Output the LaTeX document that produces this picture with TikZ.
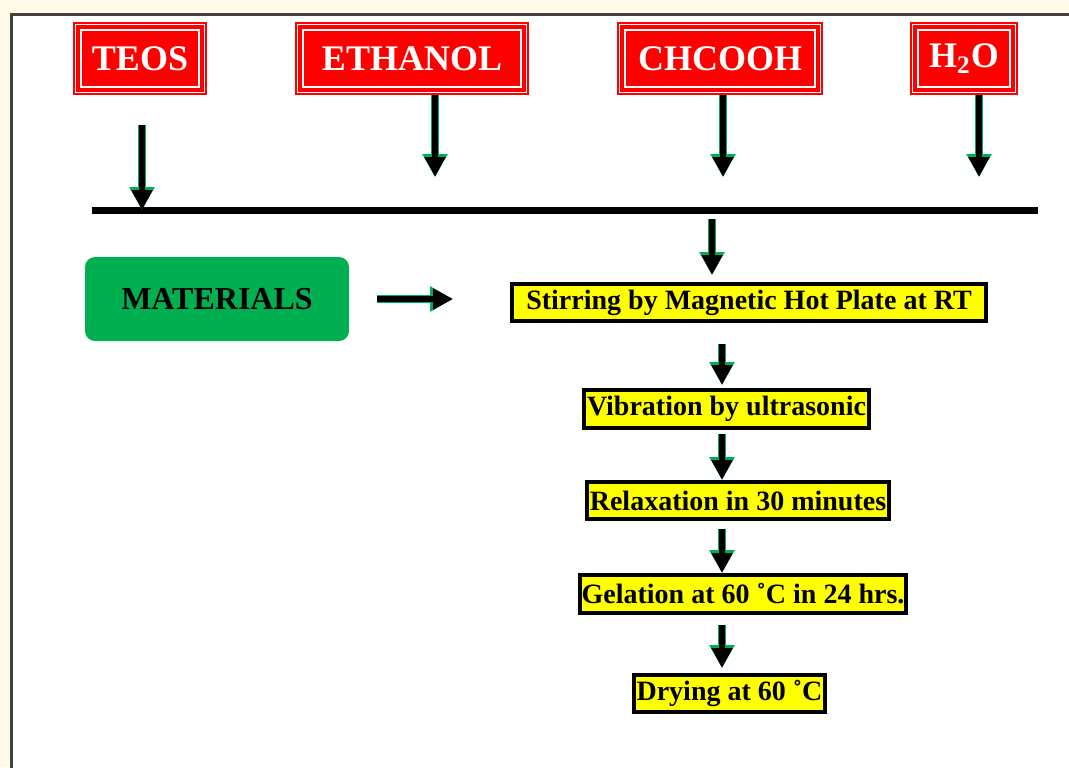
\documentclass[tikz,border=0pt]{standalone}
\usepackage{fontspec}
\setmainfont{Liberation Serif}
\usetikzlibrary{arrows.meta}
\definecolor{cream}{RGB}{255,250,230}
\definecolor{panelgray}{RGB}{64,64,64}
\definecolor{matgreen}{RGB}{0,176,80}
\definecolor{arrgreen}{RGB}{0,175,85}
\definecolor{boxred}{RGB}{255,0,0}
\definecolor{stepyellow}{RGB}{255,255,0}
\begin{document}
\begin{tikzpicture}[x=0.5pt,y=-0.5pt,
  redbox/.style={fill=boxred, draw=none, minimum height=36.5pt, inner sep=0pt,
    font=\fontsize{18}{20}\selectfont\bfseries, text=white,
    path picture={
      \draw[white,line width=0.5pt] ([shift={(1.2pt,-1.2pt)}]path picture bounding box.north west) rectangle ([shift={(-1.2pt,1.2pt)}]path picture bounding box.south east);
      \draw[white,line width=0.7pt] ([shift={(4pt,-4pt)}]path picture bounding box.north west) rectangle ([shift={(-4pt,4pt)}]path picture bounding box.south east);
    }},
  stepbox/.style={fill=stepyellow, draw=black, line width=2pt, minimum height=18.5pt,
    inner sep=0pt, font=\fontsize{14}{16}\selectfont\bfseries},
  matbox/.style={fill=matgreen, draw=none, rounded corners=5pt, minimum width=132pt,
    minimum height=42pt, font=\fontsize{16}{18}\selectfont\bfseries},
  flow/.style={line width=3pt, draw=black, -{Triangle[width=10pt,length=10pt]},
    preaction={draw=arrgreen, line width=4pt, -{Triangle[width=12pt,length=11.5pt]}}},
  mixline/.style={line width=3.5pt, draw=black}
]
\useasboundingbox (0,0) rectangle (1069,767);
\clip (0,0) rectangle (1069,767);
\fill[cream] (0,0) rectangle (1069,767);
\draw[panelgray, line width=1.5pt, fill=white] (11,14) rectangle (1090,790);

% source boxes
\node[redbox, minimum width=67pt] (teos) at (140,58.5) {TEOS};
\node[redbox, minimum width=117pt] (ethanol) at (412,58.5) {ETHANOL};
\node[redbox, minimum width=103pt] (chcooh) at (720,58.5) {CHCOOH};
\node[redbox, minimum width=54pt] (water) at (964,58.5) {H\textsubscript{2}O};

% mixing line
\coordinate (L1) at (92,210);
\coordinate (L2) at (1038,210);
\draw[mixline] (L1) -- (L2);

% arrows from sources
\coordinate (tA) at (142,125);
\coordinate (eA) at (435,177);
\coordinate (cA) at (723,177);
\coordinate (hA) at (979,177);
\draw[flow] (tA) -- (tA |- L1);
\draw[flow] (eA |- ethanol.south) -- (eA);
\draw[flow] (cA |- chcooh.south) -- (cA);
\draw[flow] (hA |- water.south) -- (hA);

% materials
\node[matbox] (mat) at (217,299) {MATERIALS};

% process steps
\node[stepbox, minimum width=237pt] (stir) at (749,302.5) {Stirring by Magnetic Hot Plate at RT};
\node[stepbox, minimum width=142.5pt, minimum height=19pt] (vib) at (726.5,409) {Vibration by ultrasonic};
\node[stepbox, minimum width=151pt] (relax) at (738,500.5) {Relaxation in 30 minutes};
\node[stepbox, minimum width=163pt, minimum height=19pt] (gel) at (743,594) {Gelation at 60 ˚C in 24 hrs.};
\node[stepbox, minimum width=95.5pt] (dry) at (729.5,693.5) {Drying at 60 ˚C};

\coordinate (sA) at (712,219);
\coordinate (colx) at (722,0);
\draw[flow, shorten >=3.5pt] (sA) -- (sA |- stir.north);
\draw[flow, shorten <=10.5pt, shorten >=1.5pt] (stir.south -| colx) -- (vib.north -| colx);
\draw[flow, shorten <=2pt] (vib.south -| colx) -- (relax.north -| colx);
\draw[flow, shorten <=4pt] (relax.south -| colx) -- (gel.north -| colx);
\draw[flow, shorten <=5pt, shorten >=2.5pt] (gel.south -| colx) -- (dry.north -| colx);

\draw[flow, shorten <=14pt, shorten >=28.5pt] (mat.east) -- (mat.east -| stir.west);
\end{tikzpicture}
\end{document}
